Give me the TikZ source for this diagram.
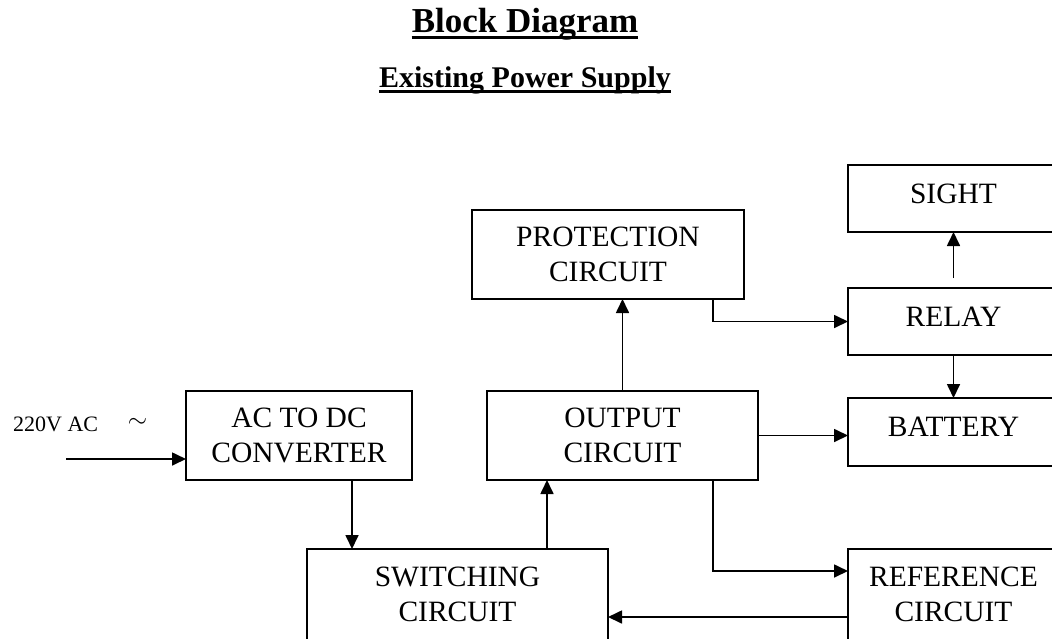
\documentclass[tikz,border=0pt]{standalone}
\usepackage{fontspec}
\setmainfont{Liberation Serif}
\usetikzlibrary{arrows.meta,calc}
\begin{document}
\begin{tikzpicture}[x=1pt,y=-1pt,
  box/.style={draw, line width=1.6pt, inner sep=0pt, outer sep=0pt, anchor=north west, align=center, font=\fontsize{29.5}{35.5}\selectfont},
  oneline/.style={text height=19.5pt, text depth=10pt},
  lowbox/.style={minimum height=94pt, text depth=4pt},
  arr/.style={line width=1.7pt, -{Triangle[length=14pt,width=13pt]}},
  uline/.style={line width=3.3pt}
  ]
\useasboundingbox (0,0) rectangle (1052,638);
\clip (0,0) rectangle (1052,638);
% titles
\node[inner sep=0, anchor=base, font=\fontsize{35}{42}\selectfont\bfseries] (title) at (525,32) {Block Diagram};
\draw[uline] ($(title.base west)+(0,5.5)$) -- ($(title.base east)+(0,5.5)$);
\node[inner sep=0, anchor=base, font=\fontsize{30}{36}\selectfont\bfseries] (sub) at (525,87.5) {Existing Power Supply};
\draw[line width=3pt] ($(sub.base west)+(0,4)$) -- ($(sub.base east)+(0,4)$);
% boxes
\node[box, oneline, minimum width=211pt, minimum height=67pt] (sight) at (848,165) {SIGHT};
\node[box, oneline, minimum width=211pt, minimum height=67pt] (relay) at (848,288) {RELAY};
\node[box, oneline, minimum width=211pt, minimum height=68pt] (bat) at (848,398) {BATTERY};
\node[box, minimum width=272pt, minimum height=89pt] (prot) at (472,210) {PROTECTION\\CIRCUIT};
\node[box, minimum width=271pt, minimum height=89pt] (out) at (487,391) {OUTPUT\\CIRCUIT};
\node[box, minimum width=226pt, minimum height=89pt] (acdc) at (186,391) {AC TO DC\\CONVERTER};
\node[box, lowbox, minimum width=301pt] (sw) at (307,549) {SWITCHING\\CIRCUIT};
\node[box, lowbox, minimum width=211pt] (ref) at (848,549) {REFERENCE\\CIRCUIT};
% input labels
\node[inner sep=0, anchor=base west, font=\fontsize{22}{26}\selectfont] (vac) at (13,431) {220V AC};
\node[inner sep=0, font=\fontsize{24}{28}\selectfont] (tilde) at (137.5,423) {$\sim$};
% connectors
\coordinate (in) at (66,459);
\draw[arr] (in) -- (in -| acdc.west);
\coordinate (a1) at ($(acdc.south)+(53,0)$);
\draw[arr] (a1) -- (a1 |- sw.north);
\coordinate (s1) at ($(sw.north)+(89.5,0)$);
\draw[arr] (s1) -- (s1 |- out.south);
\draw[arr] (out.north) -- (out.north |- prot.south);
\coordinate (p1) at ($(prot.south)+(105,0)$);
\draw[arr] (p1) |- (relay.west);
\coordinate (r1) at ($(relay.north)+(0,-10)$);
\draw[arr] (r1) -- (sight.south);
\draw[arr] (relay.south) -- (bat.north);
\draw[arr] (out.east) -- (out.east -| bat.west);
\coordinate (o1) at ($(out.south)+(90.5,0)$);
\coordinate (rf1) at ($(ref.north west)+(0,22)$);
\draw[arr] (o1) |- (rf1);
\coordinate (rf2) at ($(ref.north west)+(0,68)$);
\draw[arr] (rf2) -- (rf2 -| sw.east);
\end{tikzpicture}
\end{document}
